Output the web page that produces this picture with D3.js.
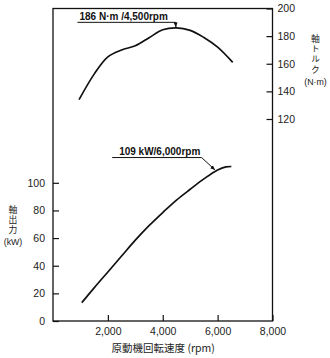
<!DOCTYPE html>
<html><head><meta charset="utf-8">
<script src="https://cdn.jsdelivr.net/npm/d3@7"></script>
<style>
body{margin:0;background:#fff;}
svg{display:block;font-family:"Liberation Sans",Arial,sans-serif;}
</style></head>
<body><svg id="c" width="330" height="358"></svg>
<script>
// Data
const torqueRpm = [950,1500,2000,2500,3000,3500,4000,4500,5000,5500,6000,6550];
const torqueVals = [134,152.5,165,170,173,178.8,184.6,186,184.2,179,172,161];
const powerRpm = [1050,1500,2000,2500,3000,3500,4000,4500,5000,5500,6000,6300,6500];
const powerVals = [13.3,24,35.5,47,58.5,69,78.5,87.5,95.3,102.8,109.3,111.5,111.8];
const xTicks = [2000,4000,6000,8000];
const xTickLabels = ["2,000","4,000","6,000","8,000"];
const powerTicks = [0,20,40,60,80,100];
const torqueTicks = [120,140,160,180,200];
const powerTitle = "軸出力";
const powerUnit = "(kW)";
const torqueTitle = "軸トルク";
const torqueUnit = "(N·m)";
const xTitle = "原動機回転速度 (rpm)";
const annotations = [
  {series:"torque", rpm:4500, value:186, label:"186 N·m /4,500rpm"},
  {series:"power", rpm:6000, value:109, label:"109 kW/6,000rpm"}
];

const svg = d3.select("#c");
const ink = "#111";
const x = d3.scaleLinear().domain([0,8000]).range([53,272.5]);
const yP = d3.scaleLinear().domain([0,100]).range([321,182.8]);
const yT = d3.scaleLinear().domain([120,200]).range([119,8.5]);

const defs = svg.append("defs");
defs.append("marker").attr("id","ah").attr("viewBox","0 0 10 10")
  .attr("refX",10).attr("refY",5).attr("markerWidth",5).attr("markerHeight",5)
  .attr("markerUnits","userSpaceOnUse").attr("orient","auto")
  .append("path").attr("d","M0,1 L10,5 L0,9 Z").attr("fill",ink);

// axes
const fs = "10.5px";
const gx = svg.append("g").attr("transform",`translate(0,${yP(0)})`)
  .call(d3.axisBottom(x).tickValues(xTicks).tickFormat((d,i)=>xTickLabels[i]).tickSize(-6).tickPadding(7));
const gl = svg.append("g").attr("transform",`translate(${x(0)},0)`)
  .call(d3.axisLeft(yP).tickValues(powerTicks).tickFormat(d3.format("d")).tickSize(-6).tickPadding(8));
const gr = svg.append("g").attr("transform",`translate(${x(8000)},0)`)
  .call(d3.axisRight(yT).tickValues(torqueTicks).tickFormat(d3.format("d")).tickSize(-6).tickPadding(5));
[gx,gl,gr].forEach(g=>{
  g.select(".domain").remove();
  g.selectAll("line").attr("stroke",ink).attr("stroke-width",1.2);
  g.selectAll("text").attr("fill","#222").style("font-size",fs).style("font-family","'Liberation Sans',Arial,sans-serif");
});

// frame
svg.append("rect").attr("x",x(0)).attr("y",yT(200))
  .attr("width",x(8000)-x(0)).attr("height",yP(0)-yT(200))
  .attr("fill","none").attr("stroke",ink).attr("stroke-width",1.3);

// curves
const lineT = d3.line().x((d,i)=>x(torqueRpm[i])).y(d=>yT(d)).curve(d3.curveCatmullRom.alpha(0.5));
const lineP = d3.line().x((d,i)=>x(powerRpm[i])).y(d=>yP(d)).curve(d3.curveCatmullRom.alpha(0.5));
svg.append("path").attr("d",lineT(torqueVals)).attr("fill","none").attr("stroke",ink).attr("stroke-width",1.7);
svg.append("path").attr("d",lineP(powerVals)).attr("fill","none").attr("stroke",ink).attr("stroke-width",1.7);

// annotations
annotations.forEach(a=>{
  const tx = x(a.rpm);
  const ty = a.series==="torque" ? yT(a.value) : yP(a.value);
  let pts, textX, textY;
  if (a.series==="torque"){
    pts = [[tx-99,ty-5.5],[tx-1,ty-5.5],[tx-0.5,ty-0.5]];
    textX = tx-97; textY = ty-8;
  } else {
    pts = [[tx-105.5,ty-12.8],[tx-16,ty-12.8],[tx-2.5,ty-0.3]];
    textX = tx-98.5; textY = ty-15;
  }
  svg.append("path").attr("d",d3.line()(pts)).attr("fill","none")
    .attr("stroke",ink).attr("stroke-width",1).attr("marker-end","url(#ah)");
  svg.append("text").attr("x",textX).attr("y",textY).text(a.label)
    .attr("fill",ink).style("font-size","10px").style("font-weight","bold");
});

// axis titles
const cjk = "'Noto Sans CJK JP','Liberation Sans',sans-serif";
svg.append("text").attr("x",(x(0)+x(8000))/2+0.5).attr("y",352).attr("text-anchor","middle")
  .style("font-size","10.5px").style("font-family",cjk).attr("fill","#222").text(xTitle);
function vtitle(title, unit, cx, y0, ls, unitY){
  svg.append("text").attr("x",cx).attr("y",y0)
    .style("writing-mode","vertical-rl").style("text-orientation","upright")
    .style("letter-spacing",ls+"px")
    .style("font-size","8.8px").style("font-family",cjk).attr("fill","#222").text(title);
  svg.append("text").attr("x",cx).attr("y",unitY)
    .attr("text-anchor","middle").attr("dominant-baseline","central")
    .style("font-size","8.8px").style("font-family","'Liberation Sans',Arial,sans-serif").attr("fill","#222").text(unit);
}
vtitle(powerTitle, powerUnit, 13, 205.5, 1, 242);
vtitle(torqueTitle, torqueUnit, 315.5, 34, 1.5, 81.5);
</script></body></html>
